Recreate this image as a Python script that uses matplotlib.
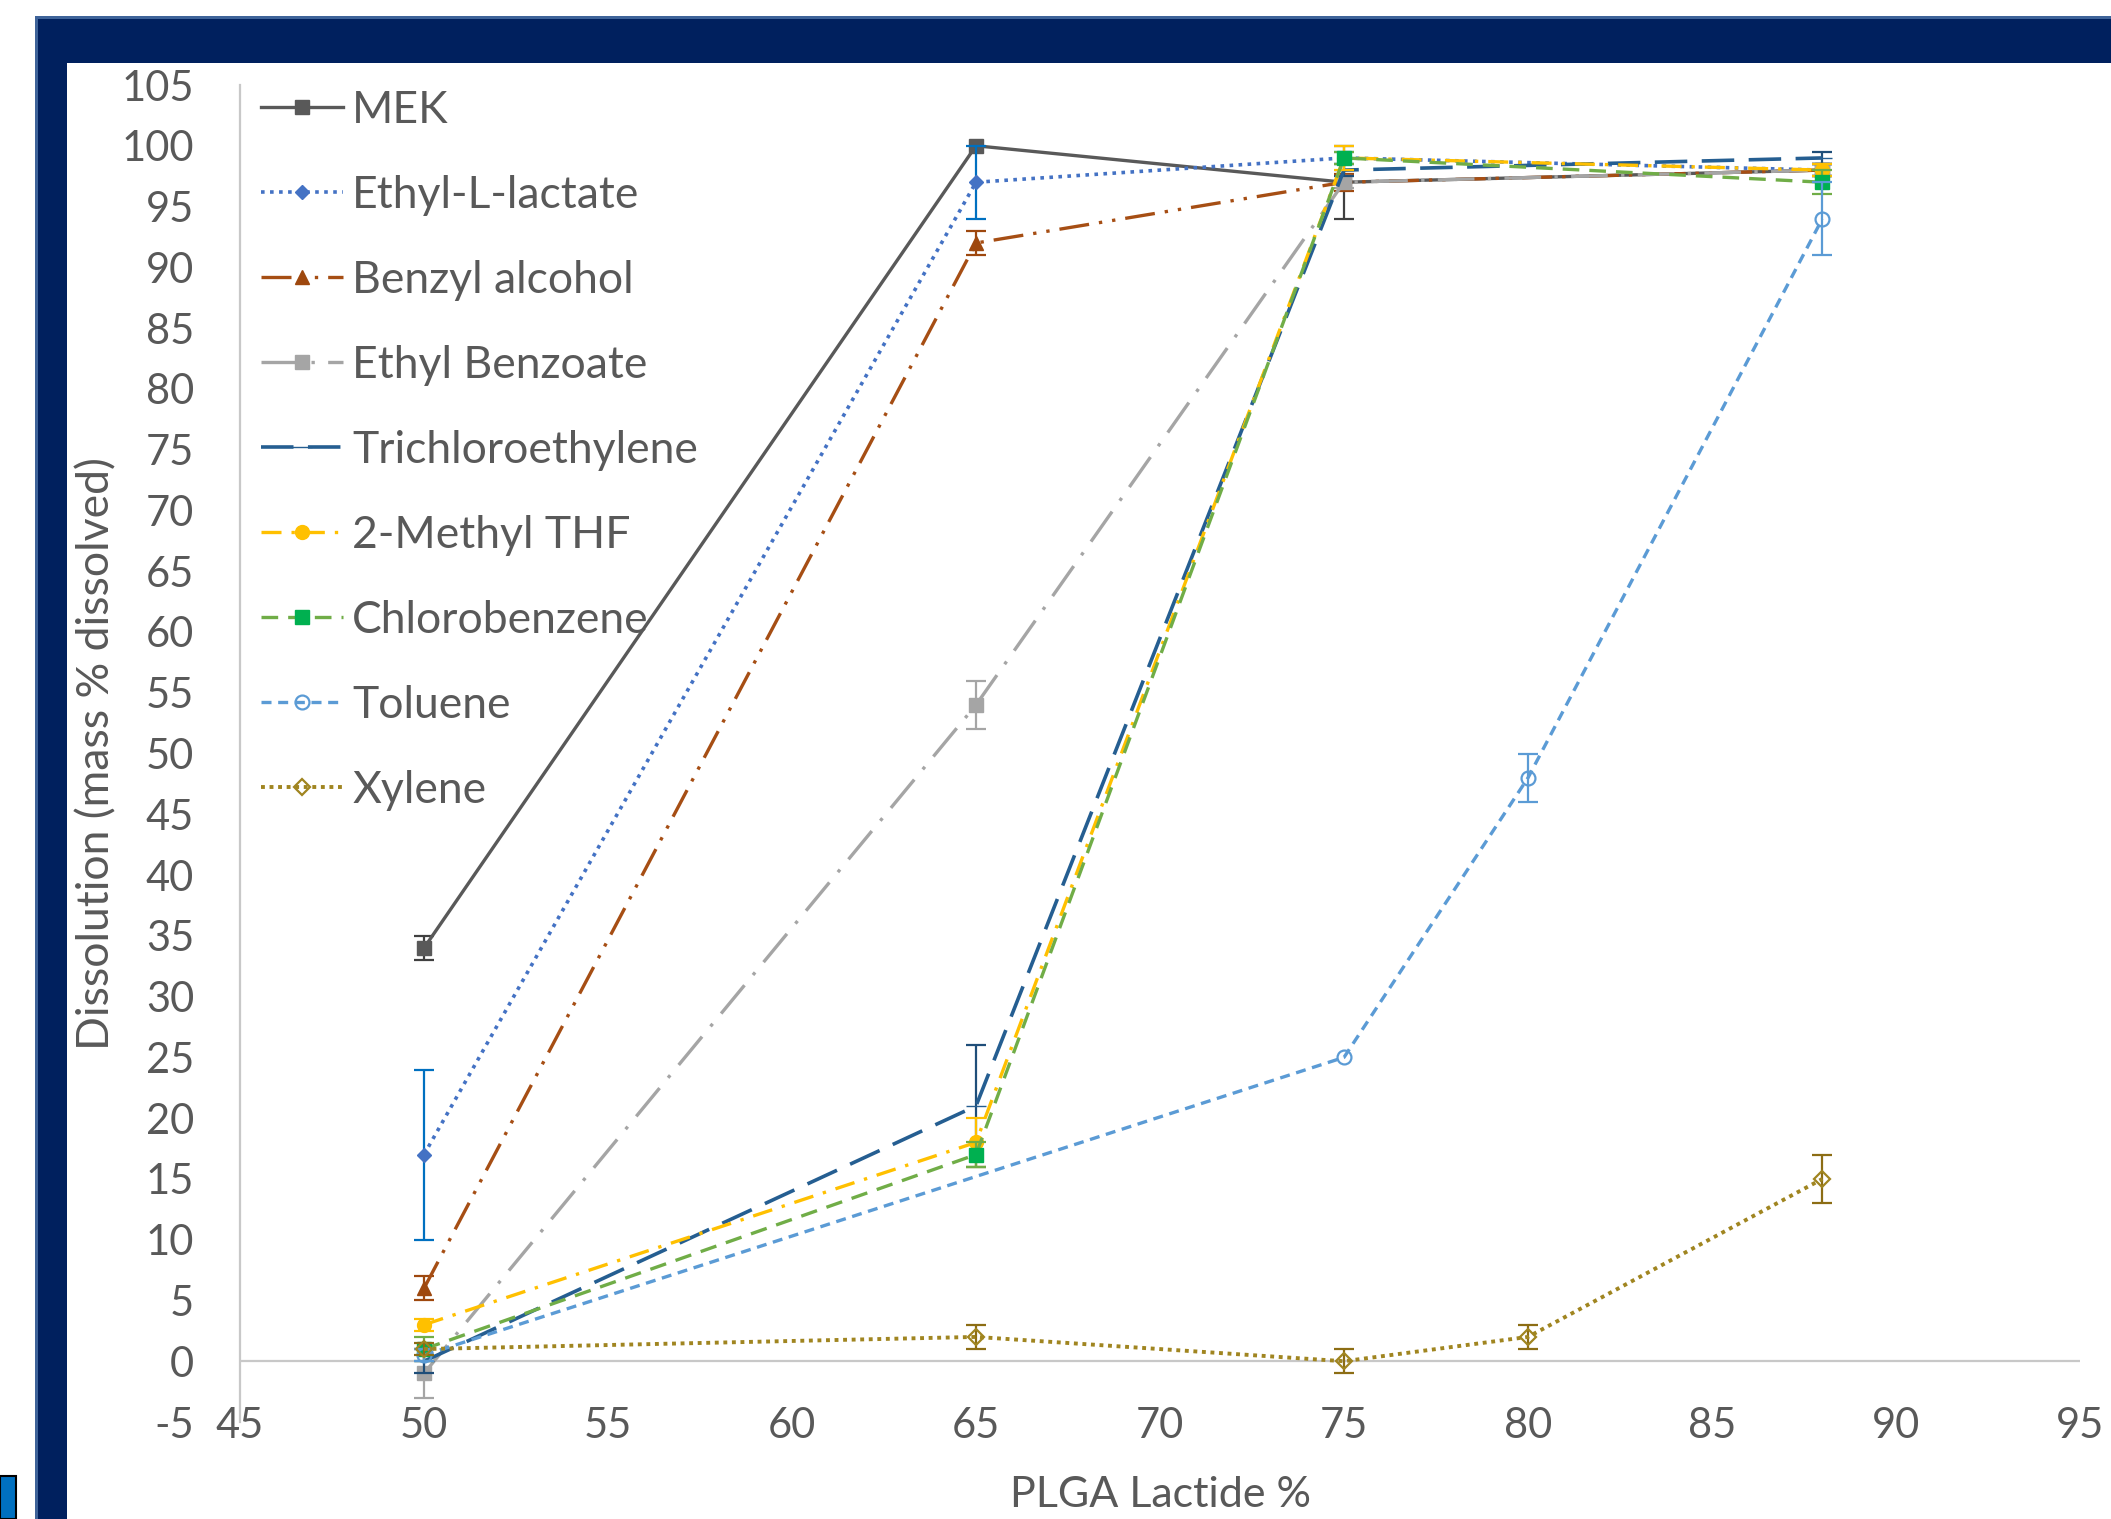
import matplotlib
matplotlib.use("Agg")
import matplotlib.pyplot as plt
from matplotlib.patches import Rectangle
import numpy as np

plt.rcParams['font.family'] = ['Lato', 'DejaVu Sans']
plt.rcParams['axes.unicode_minus'] = False

# ---- data ----
x_main = [50, 65, 75, 88]
mek = [34, 100, 97, 98]
mek_err = [1, np.nan, 3, 0.5]
ethyl_lactate = [17, 97, 99, 98]
ethyl_lactate_err = [7, 3, 0.5, 0.5]
benzyl_alcohol = [6, 92, 97, 98]
benzyl_alcohol_err = [1, 1, 0.7, 0.5]
ethyl_benzoate = [-1, 54, 97, 98]
ethyl_benzoate_err = [2, 2, 0.5, 0.5]
trichloroethylene = [0, 21, 98, 99]
trichloroethylene_err = [1, 5, 0.5, 0.5]
methyl_thf = [3, 18, 99, 98]
methyl_thf_err = [0.5, 2, 1, 0.5]
chlorobenzene = [1, 17, 99, 97]
chlorobenzene_err = [1, 1, 0.5, 1]
x_toluene = [50, 75, 80, 88]
toluene = [0.5, 25, 48, 94]
toluene_err = [0.5, np.nan, 2, 3]
x_xylene = [50, 65, 75, 80, 88]
xylene = [1, 2, 0, 2, 15]
xylene_err = [0.5, 1, 1, 1, 2]

x_ticks = list(range(45, 96, 5))
y_ticks = list(range(-5, 106, 5))

W, H = 2111, 1519
fig = plt.figure(figsize=(W / 100, H / 100), dpi=100)

# navy frame
navy = "#00205E"
def add_rect(x0, y0, w, h, **kw):
    r = Rectangle((x0, y0), w, h, transform=fig.transFigure, zorder=-10, **kw)
    fig.patches.append(r)

add_rect(35 / W, 0, 1 - 35 / W, 1 - 19 / H, facecolor=navy, edgecolor="none")
add_rect(35 / W, 0, 3 / W, 1 - 19 / H, facecolor="#3E6399", edgecolor="none")
add_rect(35 / W, 1 - 19 / H, 1 - 35 / W, 3 / H, facecolor="#3E6399", edgecolor="none")
add_rect(67 / W, 0, 1 - 67 / W, 1 - 63 / H, facecolor="white", edgecolor="none")
add_rect(0, 0, 16 / W, 43 / H, facecolor="#0070C0", edgecolor="black", linewidth=1.5)

ax = fig.add_axes([240 / W, 1 - 1422 / H, (2080 - 240) / W, (1422 - 85) / H])
ax.set_facecolor("none")
ax.set_zorder(5)

series = [
    dict(x=x_main, y=mek, e=mek_err, label="MEK", color="#595959", ls="-", lw=2.4, marker="s",
         ms=10, mfc="#595959", ecol="#404040"),
    dict(x=x_main, y=ethyl_lactate, e=ethyl_lactate_err, label="Ethyl-L-lactate", color="#4472C4",
         lw=2.6, ls=(0, (1, 1.5)), marker="D", ms=7.5, mfc="#4472C4", ecol="#0070C0"),
    dict(x=x_main, y=benzyl_alcohol, e=benzyl_alcohol_err, label="Benzyl alcohol", color="#A64E14",
         lw=2.4, ls=(0, (9, 3, 1, 3, 1, 3)), marker="^", ms=10, mfc="#9E480E", ecol="#9E480E"),
    dict(x=x_main, y=ethyl_benzoate, e=ethyl_benzoate_err, label="Ethyl Benzoate", color="#A5A5A5",
         lw=2.4, ls=(0, (11, 4, 1, 4)), marker="s", ms=10, mfc="#A5A5A5", ecol="#A5A5A5"),
    dict(x=x_main, y=trichloroethylene, e=trichloroethylene_err, label="Trichloroethylene",
         lw=2.6, color="#255E91", ls=(0, (9, 4)), marker="_", ms=14, mfc="#255E91", ecol="#1F4E79"),
    dict(x=x_main, y=methyl_thf, e=methyl_thf_err, label="2-Methyl THF", color="#FFC000",
         lw=2.4, ls=(0, (6, 3, 1, 3)), marker="o", ms=10, mfc="#FFC000", ecol="#FFC000"),
    dict(x=x_main, y=chlorobenzene, e=chlorobenzene_err, label="Chlorobenzene", color="#70AD47",
         lw=2.4, ls=(0, (5, 3)), marker="s", ms=10, mfc="#00B050", ecol="#70AD47"),
    dict(x=x_toluene, y=toluene, e=toluene_err, label="Toluene", color="#5B9BD5",
         lw=2.4, ls=(0, (3, 2)), marker="o", ms=10, mfc="none", ecol="#5B9BD5"),
    dict(x=x_xylene, y=xylene, e=xylene_err, label="Xylene", color="#A08520",
         lw=2.8, ls=(0, (1, 1.2)), marker="D", ms=8.5, mfc="none", ecol="#8C6D14"),
]

handles = []
for i, s in enumerate(series):
    ax.errorbar(s["x"], s["y"], yerr=s["e"], fmt="none", ecolor=s["ecol"], elinewidth=1.6,
                capsize=7, capthick=1.6, zorder=3 + i)
    ln, = ax.plot(s["x"], s["y"], color=s["color"], linestyle=s["ls"], linewidth=s["lw"],
                  marker=s["marker"], markersize=s["ms"], markerfacecolor=s["mfc"],
                  markeredgecolor=s["mfc"] if s["mfc"] != "none" else s["color"],
                  markeredgewidth=1.6 if s["mfc"] == "none" else 1.0,
                  label=s["label"], zorder=3 + i)
    handles.append(ln)

ax.set_xlim(45, 95)
ax.set_ylim(-5, 105)
ax.set_xticks(x_ticks)
ax.set_yticks(y_ticks)
for sp in ["top", "right", "bottom"]:
    ax.spines[sp].set_visible(False)
ax.spines["left"].set_color("#C8C8C8")
ax.spines["left"].set_linewidth(1.6)
ax.axhline(0, color="#C8C8C8", linewidth=1.6, zorder=1)
ax.tick_params(axis="both", length=0, labelsize=30, labelcolor="#595959")
ax.tick_params(axis="y", pad=33)
ax.tick_params(axis="x", pad=3)
for lab in ax.get_xticklabels():
    lab.set_verticalalignment("center")

ax.set_xlabel("PLGA Lactide %", fontsize=31, color="#595959", labelpad=22)
ax.set_ylabel("Dissolution (mass % dissolved)", fontsize=32, color="#595959", labelpad=3)

leg = ax.legend(handles=handles, loc="upper left", bbox_to_anchor=(261 / W, 1 - 90 / H),
                bbox_transform=fig.transFigure, frameon=False, fontsize=32,
                handlelength=1.85, handletextpad=0.2, labelspacing=0.99,
                borderpad=0, borderaxespad=0)
for t in leg.get_texts():
    t.set_color("#595959")

fig.savefig("out.png", dpi=100)
